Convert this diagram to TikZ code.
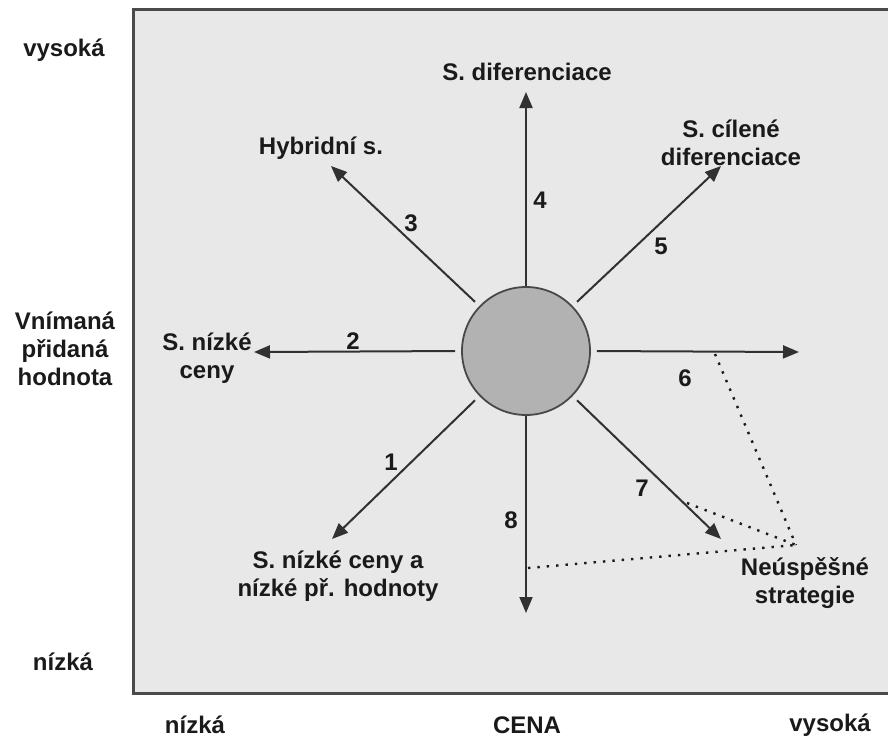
\documentclass[tikz,border=0pt]{standalone}
\usepackage{fontspec}
\setmainfont{Liberation Sans}
\usetikzlibrary{arrows.meta}
\definecolor{panel}{HTML}{E8E8E8}
\definecolor{frame}{HTML}{4A4A4A}
\definecolor{hub}{HTML}{B2B2B2}
\definecolor{ink}{HTML}{1A1A1A}
\begin{document}
\begin{tikzpicture}[x=1pt,y=-1pt,
  every node/.style={font=\fontsize{24}{28}\selectfont\bfseries, text=ink, align=center, inner sep=0pt},
  ray/.style={line width=2pt, draw=ink!90, -{Triangle[length=16pt,width=13pt]}},
  offray/.style={ray, shorten <=6pt},
  fail/.style={draw=ink, line width=2.4pt, dash pattern=on 2.4pt off 7pt},
  num/.style={}]
  \useasboundingbox (0,0) rectangle (888,740);
  % panel
  \fill[panel] (133,9) rectangle (895,693);
  \draw[frame, line width=3pt] (895,9) -- (133,9) -- (133,693) -- (895,693);
  % centre
  \node[circle, minimum size=128pt, fill=hub, draw=ink!80, line width=1.8pt] (c) at (526,351) {};
  % arrow tips
  \coordinate (t4) at (526,92);
  \coordinate (t2) at (254,352);
  \coordinate (t6) at (799,352);
  \coordinate (t8) at (526,613);
  \coordinate (t3) at (331,166);
  \coordinate (t5) at (721,166);
  \coordinate (t1) at (332,539);
  \coordinate (t7) at (721,539);
  \draw[ray] (c.north) -- (t4);
  \draw[ray] (c.south) -- (t8);
  \draw[offray] (c.180) -- (t2);
  \draw[offray] (c.0) -- (t6);
  \draw[offray] (c.136) -- (t3);
  \draw[offray] (c.44) -- (t5);
  \draw[offray] (c.224) -- (t1);
  \draw[offray] (c.316) -- (t7);
  % strategy labels
  \node (l4) at (527,72) {S. diferenciace};
  \node (l3) at (321,148) {Hybridní s.};
  \node (l5) at (731,143) {S. cílené\\diferenciace};
  \node (l2) at (207,358) {S. nízké\\ceny};
  \node (l1) at (338,576) {S. nízké ceny a\\nízké př. hodnoty};
  \node (lf) at (805,583) {Neúspěšné\\strategie};
  % numbers
  \node[num] (n1) at (391,462) {1};
  \node[num] (n2) at (353,341) {2};
  \node[num] (n3) at (411,223) {3};
  \node[num] (n4) at (540,200) {4};
  \node[num] (n5) at (661,246) {5};
  \node[num] (n6) at (685,378) {6};
  \node[num] (n7) at (642,488) {7};
  \node[num] (n8) at (511,520) {8};
  % failed strategies
  \coordinate (fx) at (796,545);
  \coordinate (f6) at (715,354);
  \coordinate (f7) at (687,503);
  \coordinate (f8) at (528,568);
  \draw[fail] (f6) -- (fx);
  \draw[fail] (f7) -- (fx);
  \draw[fail] (f8) -- (fx);
  % axes
  \node (yhi) at (64,50) {vysoká};
  \node (ylab) at (65,349) {Vnímaná\\přidaná\\hodnota};
  \node (ylo) at (63,662) {nízká};
  \node (xlo) at (195,725) {nízká};
  \node (xlab) at (527,725) {CENA};
  \node (xhi) at (830,725) {vysoká};
\end{tikzpicture}
\end{document}
